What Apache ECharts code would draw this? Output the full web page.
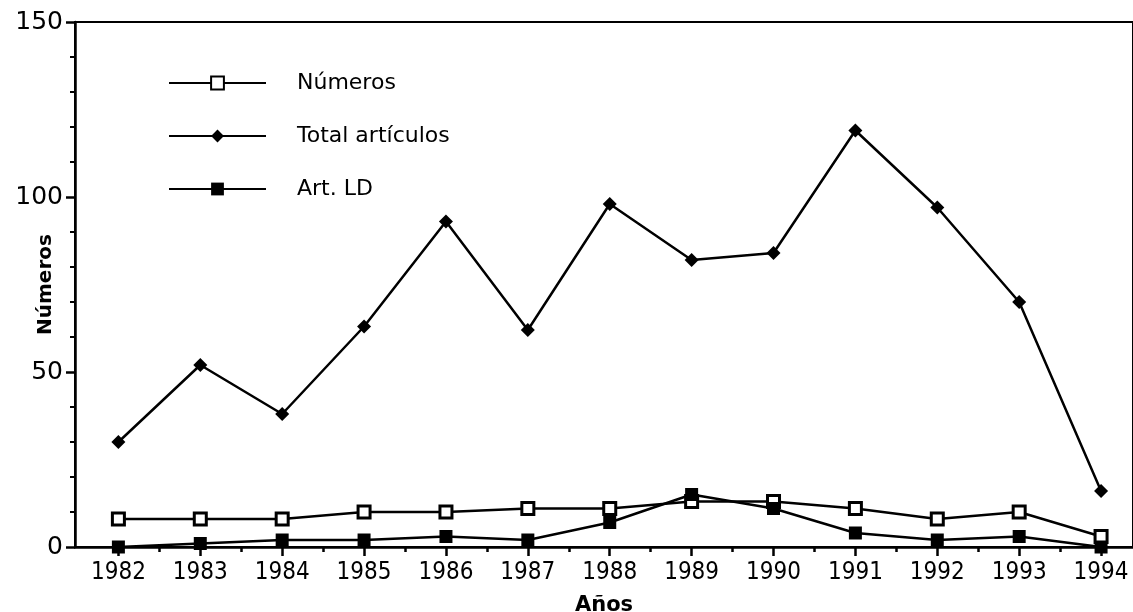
<!DOCTYPE html>
<html>
<head>
<meta charset="utf-8">
<script src="https://cdn.jsdelivr.net/npm/echarts@6/dist/echarts.min.js"></script>
<style>
    html, body { margin: 0; padding: 0; background: #fff; }
    #chart { width: 1133px; height: 612px; }
</style>
</head>
<body>
<div id="chart"></div>
<script>
    var years = [1982, 1983, 1984, 1985, 1986, 1987, 1988, 1989, 1990, 1991, 1992, 1993, 1994];
    var numeros = [8, 8, 8, 10, 10, 11, 11, 13, 13, 11, 8, 10, 3];
    var totalArticulos = [30, 52, 38, 63, 93, 62, 98, 82, 84, 119, 97, 70, 16];
    var artLD = [0, 1, 2, 2, 3, 2, 7, 15, 11, 4, 2, 3, 0];
    var halfTicks = [1982.5, 1983.5, 1984.5, 1985.5, 1986.5, 1987.5, 1988.5, 1989.5, 1990.5, 1991.5, 1992.5, 1993.5];

    function pairs(vals) {
        return years.map(function (y, i) { return [y, vals[i]]; });
    }

    var font = 'DejaVu Sans';
    var cond = 'DejaVu Sans Condensed';
    var chart = echarts.init(document.getElementById('chart'));
    chart.setOption({
        animation: false,
        textStyle: { fontFamily: font, color: '#000' },
        grid: {
            left: 75, right: 0, top: 22, bottom: 65,
            outerBoundsMode: 'none',
            containLabel: false,
            show: true, borderColor: '#000', borderWidth: 2
        },
        legend: {
            orient: 'vertical',
            left: 163,
            top: 67,
            itemWidth: 97,
            itemHeight: 16,
            itemGap: 31,
            textStyle: { fontSize: 22, fontFamily: font, color: '#000', padding: [0, 0, 0, 26] },
            data: ['Números', 'Total artículos', 'Art. LD']
        },
        xAxis: [{
            type: 'value',
            min: 1981.47,
            max: 1994.39,
            name: 'Años',
            nameLocation: 'middle',
            nameGap: 48,
            nameMoveOverlap: false,
            nameTextStyle: { fontSize: 21, fontWeight: 'bold', color: '#000' },
            axisLine: { lineStyle: { color: '#000', width: 2.5 } },
            axisTick: { show: true, customValues: years, length: 9, lineStyle: { width: 2.5, color: '#000' } },
            axisLabel: { customValues: years, fontSize: 24, fontFamily: cond, color: '#000', margin: 14, formatter: function (v) { return String(v); } },
            splitLine: { show: false }
        }, {
            type: 'value',
            position: 'bottom',
            min: 1981.47,
            max: 1994.39,
            axisLine: { show: false },
            axisTick: { show: true, customValues: halfTicks, length: 5, lineStyle: { width: 2.5, color: '#000' } },
            axisLabel: { show: false },
            splitLine: { show: false }
        }],
        yAxis: {
            type: 'value',
            min: 0,
            max: 150,
            interval: 50,
            name: 'Números',
            nameLocation: 'middle',
            nameGap: 19,
            nameMoveOverlap: false,
            nameTextStyle: { fontSize: 20, fontWeight: 'bold', color: '#000' },
            axisLine: { show: true, lineStyle: { color: '#000', width: 2.5 } },
            axisTick: { show: true, length: 9, lineStyle: { width: 2.5, color: '#000' } },
            minorTick: { show: true, splitNumber: 5, length: 5, lineStyle: { width: 2, color: '#000' } },
            axisLabel: { fontSize: 25, color: '#000', margin: 12 },
            splitLine: { show: false }
        },
        series: [{
            name: 'Números',
            type: 'line',
            data: pairs(numeros),
            symbol: 'rect',
            symbolSize: 12,
            lineStyle: { color: '#000', width: 2.5 },
            itemStyle: { color: '#fff', borderColor: '#000', borderWidth: 3 },
            z: 3
        }, {
            name: 'Total artículos',
            type: 'line',
            data: pairs(totalArticulos),
            symbol: 'diamond',
            symbolSize: 14,
            lineStyle: { color: '#000', width: 2.5 },
            itemStyle: { color: '#000' }
        }, {
            name: 'Art. LD',
            type: 'line',
            data: pairs(artLD),
            symbol: 'rect',
            symbolSize: 13,
            lineStyle: { color: '#000', width: 2.5 },
            itemStyle: { color: '#000' }
        }]
    });
</script>
</body>
</html>
